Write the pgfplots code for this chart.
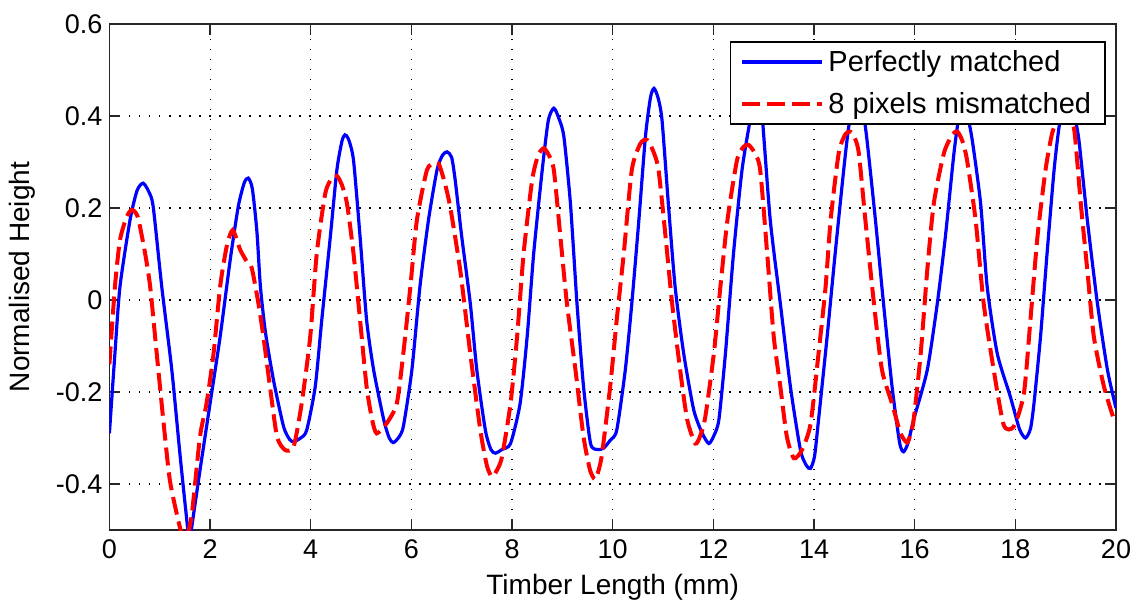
\documentclass[border=0pt]{standalone}
\usepackage{fontspec}
\setmainfont{Liberation Sans}
\usepackage{pgfplots}
\pgfplotsset{compat=1.18}
\begin{document}
\begin{tikzpicture}
\begin{axis}[
  name=ax, at={(0,0)}, anchor=south west,
  scale only axis, width=503.3pt, height=253pt,
  xmin=0, xmax=20, ymin=-0.5, ymax=0.6,
  xtick={0,2,...,20},
  ytick={-0.4,-0.2,0,0.2,0.4,0.6},
  yticklabels={-0.4,-0.2,0,0.2,0.4,0.6},
  /pgf/number format/assume math mode=true,
  tick align=inside, major tick length=5.5pt,
  xtick pos=both, ytick pos=both,
  tick style={black!85, line width=0.7pt},
  axis line style={black!85, line width=0.8pt},
  grid=major,
  grid style={black, line width=0.55pt, dash pattern=on 0.55pt off 4.45pt},
  ticklabel style={font=\fontsize{13.5}{15}\selectfont},
  xticklabel style={yshift=-1.5pt},
  xlabel={Timber Length (mm)},
  ylabel={Normalised Height},
  every axis x label/.style={at={(axis description cs:0.5,-0.128)}, anchor=base, font=\fontsize{14}{16}\selectfont},
  every axis y label/.style={at={(axis description cs:-0.0865,0.5)}, rotate=90, anchor=center, font=\fontsize{14}{16}\selectfont},
  legend style={at={(axis description cs:0.990,0.966)}, anchor=north east,
    draw=black, line width=0.8pt, fill=white, inner xsep=5pt, inner ysep=2pt,
    font=\fontsize{14.5}{16}\selectfont, row sep=5pt},
  legend cell align=left,
  legend image code/.code={\draw[#1] (0pt,0pt) -- (40pt,0pt);},
]
\addplot[blue, line width=1.6pt, smooth, tension=0.4] coordinates {
(0,-0.29) (0.11,-0.116) (0.21,0.029) (0.41,0.174) (0.55,0.238) (0.67,0.254) (0.78,0.236) (0.87,0.203)
(1.04,0.029) (1.24,-0.152) (1.40,-0.333) (1.52,-0.46) (1.59,-0.52) (1.68,-0.46) (1.80,-0.37)
(2.0,-0.225) (2.2,-0.08) (2.4,0.087) (2.56,0.203) (2.68,0.255) (2.76,0.265) (2.84,0.242) (2.93,0.15)
(3.0,0.03) (3.1,-0.07) (3.26,-0.174) (3.46,-0.275) (3.58,-0.303) (3.66,-0.308) (3.80,-0.300) (3.92,-0.283)
(4.09,-0.188) (4.22,-0.043) (4.39,0.138) (4.52,0.283) (4.62,0.345) (4.68,0.359) (4.75,0.35) (4.85,0.304)
(4.98,0.138) (5.11,-0.043) (5.25,-0.152) (5.45,-0.26) (5.56,-0.300) (5.64,-0.31) (5.74,-0.30) (5.84,-0.275)
(6.01,-0.152) (6.17,0.029) (6.34,0.174) (6.51,0.283) (6.62,0.315) (6.71,0.322) (6.80,0.31) (6.87,0.261)
(7.0,0.138) (7.17,-0.007) (7.30,-0.152) (7.47,-0.283) (7.58,-0.325) (7.67,-0.333) (7.80,-0.325) (7.97,-0.312)
(8.16,-0.225) (8.30,-0.08) (8.43,0.101) (8.60,0.283) (8.72,0.39) (8.83,0.417) (8.93,0.395) (9.03,0.355)
(9.16,0.21) (9.29,-0.007) (9.42,-0.188) (9.56,-0.312) (9.70,-0.325) (9.82,-0.322) (9.95,-0.305) (10.08,-0.283)
(10.25,-0.152) (10.38,-0.007) (10.52,0.174) (10.65,0.355) (10.75,0.44) (10.82,0.46) (10.90,0.44) (10.98,0.391)
(11.11,0.203) (11.24,0.029) (11.41,-0.116) (11.61,-0.239) (11.78,-0.29) (11.91,-0.312) (12.01,-0.295) (12.11,-0.26)
(12.24,-0.116) (12.40,0.101) (12.57,0.283) (12.73,0.39) (12.84,0.44) (12.90,0.445) (12.97,0.40)
(13.13,0.174) (13.33,-0.007) (13.53,-0.188) (13.73,-0.326) (13.85,-0.36) (13.93,-0.366) (14.01,-0.34) (14.09,-0.26)
(14.26,-0.08) (14.42,0.101) (14.59,0.283) (14.69,0.377) (14.80,0.43) (14.87,0.435) (14.96,0.42) (15.05,0.35)
(15.22,0.174) (15.38,-0.007) (15.55,-0.188) (15.70,-0.31) (15.78,-0.33) (15.87,-0.31) (15.98,-0.26)
(16.25,-0.152) (16.45,-0.007) (16.61,0.138) (16.78,0.319) (16.88,0.40) (16.95,0.42) (17.03,0.41) (17.14,0.35)
(17.31,0.21) (17.44,0.029) (17.64,-0.116) (17.90,-0.21) (18.08,-0.28) (18.2,-0.30) (18.30,-0.28) (18.37,-0.225)
(18.50,-0.08) (18.63,0.101) (18.77,0.283) (18.87,0.377) (18.97,0.425) (19.06,0.43) (19.15,0.41) (19.26,0.35)
(19.43,0.174) (19.63,-0.007) (19.83,-0.152) (20.0,-0.235)
};
\addlegendentry{Perfectly matched}
\addplot[red, line width=2pt, dash pattern=on 9pt off 3.5pt, smooth, tension=0.4] coordinates {
(0,-0.14) (0.11,0.029) (0.21,0.13) (0.34,0.18) (0.44,0.196) (0.52,0.19) (0.58,0.174) (0.71,0.101)
(0.81,0.029) (0.94,-0.116) (1.07,-0.26) (1.20,-0.391) (1.37,-0.48) (1.47,-0.52) (1.55,-0.51) (1.64,-0.464)
(1.80,-0.297) (1.93,-0.225) (2.07,-0.116) (2.2,0.029) (2.33,0.116) (2.45,0.152) (2.60,0.109) (2.75,0.08)
(2.83,0.069) (2.96,-0.007) (3.06,-0.08) (3.19,-0.188) (3.33,-0.297) (3.49,-0.326) (3.66,-0.319) (3.82,-0.225)
(3.99,-0.08) (4.12,0.101) (4.29,0.232) (4.42,0.265) (4.52,0.27) (4.62,0.25) (4.72,0.21) (4.85,0.101)
(4.98,-0.043) (5.11,-0.188) (5.22,-0.26) (5.31,-0.29) (5.51,-0.268) (5.71,-0.225) (5.84,-0.116) (5.98,0.029)
(6.11,0.174) (6.31,0.283) (6.45,0.296) (6.54,0.297) (6.65,0.26) (6.77,0.203) (6.97,0.065) (7.17,-0.116)
(7.37,-0.283) (7.50,-0.36) (7.60,-0.384) (7.70,-0.37) (7.80,-0.341) (7.97,-0.225) (8.10,-0.08) (8.23,0.101)
(8.40,0.261) (8.52,0.315) (8.63,0.33) (8.73,0.315) (8.83,0.283) (8.96,0.138) (9.09,-0.007) (9.26,-0.152)
(9.42,-0.297) (9.55,-0.37) (9.65,-0.39) (9.72,-0.37) (9.79,-0.333) (9.95,-0.188) (10.08,-0.043) (10.22,0.101)
(10.38,0.283) (10.55,0.34) (10.68,0.348) (10.80,0.325) (10.91,0.283) (11.05,0.138) (11.18,-0.007) (11.34,-0.152)
(11.48,-0.26) (11.64,-0.312) (11.74,-0.295) (11.84,-0.254) (12.01,-0.116) (12.14,0.029) (12.28,0.174) (12.47,0.304)
(12.60,0.333) (12.70,0.337) (12.82,0.32) (12.93,0.283) (13.07,0.10) (13.2,-0.08) (13.33,-0.188) (13.46,-0.297)
(13.6,-0.344) (13.76,-0.326) (13.93,-0.27) (14.09,-0.116) (14.23,0.029) (14.33,0.174) (14.49,0.319) (14.62,0.36)
(14.72,0.366) (14.80,0.355) (14.89,0.319) (15.02,0.174) (15.19,-0.007) (15.35,-0.152) (15.55,-0.225) (15.72,-0.29)
(15.85,-0.31) (15.92,-0.29) (15.98,-0.26) (16.12,-0.116) (16.25,0.065) (16.38,0.21) (16.58,0.319) (16.75,0.36)
(16.85,0.366) (16.95,0.345) (17.04,0.304) (17.21,0.174) (17.37,-0.007) (17.57,-0.152) (17.77,-0.272) (17.97,-0.275)
(18.17,-0.203) (18.30,-0.043) (18.44,0.138) (18.60,0.283) (18.73,0.362) (18.85,0.395) (18.95,0.40) (19.05,0.39)
(19.17,0.37) (19.30,0.21) (19.43,0.065) (19.56,-0.08) (19.76,-0.188) (19.96,-0.26) (20.0,-0.265)
};
\addlegendentry{8 pixels mismatched}
\end{axis}
\pgfresetboundingbox
\path ([shift={(-54.7pt,-40pt)}]ax.south west) rectangle ([shift={(11.5pt,12pt)}]ax.north east);
\end{tikzpicture}
\end{document}
